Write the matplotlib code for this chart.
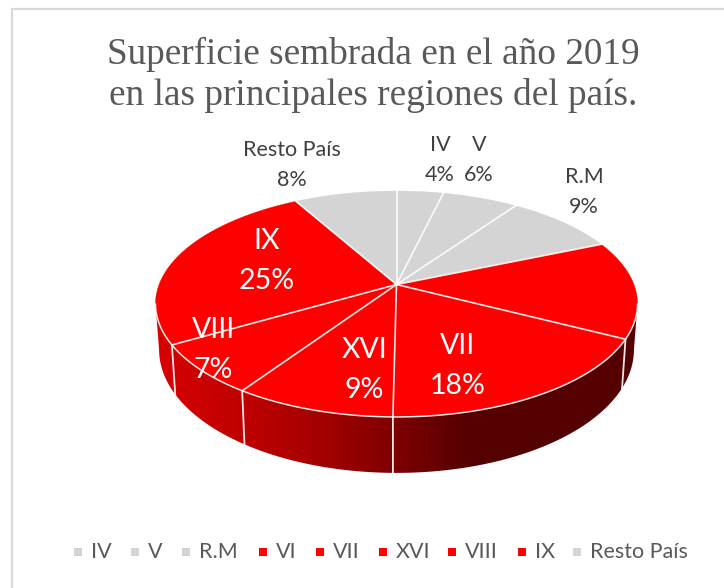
import numpy as np
import matplotlib
matplotlib.use('Agg')
import matplotlib.pyplot as plt

# data
regions = ['IV', 'V', 'R.M', 'VI', 'VII', 'XVI', 'VIII', 'IX', 'Resto País']
shares = [3.7, 6.0, 8.9, 14.0, 17.6, 9.2, 7.2, 25.3, 8.1]
is_red = [False, False, False, True, True, True, True, True, False]
title = 'Superficie sembrada en el año 2019\nen las principales regiones del país.'

GREY = '#d4d4d4'
RED = '#ff0000'

# perspective of the pie, in pixels of the picture
xc, yc = 396.5, 284.5
rx, ry, persp = 237.4, 109.6, 0.1726
low_dx, low_dy, low_fy = 0.985, 44, 1.09

# label centres for each region (None = no label)
label_pos = [(440, 160), (479, 160), (584, 192), None, (458, 366),
             (364.5, 370), (213.5, 350), (267, 261), (292, 165)]
legend_x = [78, 135, 186, 263, 320, 383, 452, 522, 577]


def top_xy(theta):
    # theta clockwise from the top of the pie, radians
    u, v = np.sin(theta), np.cos(theta)
    s = 1 / (1 + persp * v)
    return xc + rx * u * s, yc - ry * v * s


def low_xy(theta):
    x, y = top_xy(theta)
    return xc + (x - xc) * low_dx, yc + low_dy + (y - yc) * low_fy


fig = plt.figure(figsize=(7.24, 5.88), dpi=100)
ax = fig.add_axes([0, 0, 1, 1])
ax.axis('off')

# chart frame
ax.plot([11.5, 11.5, 724], [588, 9, 9], color='#d9d9d9', lw=1.6, zorder=1)

bounds = np.concatenate([[0], np.cumsum(shares)]) / np.sum(shares) * 2 * np.pi

# side wall: horizontal gradient clipped to the outline
wall = np.linspace(np.radians(100), np.radians(260), 300)
xt, yt = top_xy(wall)
xl, yl = low_xy(wall[::-1])
outline = ax.fill(np.r_[xt, xl], np.r_[yt, yl], color='none', lw=0, zorder=2)[0]
grad_x = np.arange(150, 645)
grad_g = np.interp(grad_x, [157, 246, 330, 394, 470, 638], [215, 190, 160, 125, 85, 85])
grad = np.zeros((1, len(grad_x), 3))
grad[0, :, 0] = grad_g / 255
img = ax.imshow(grad, extent=(150, 645, 480, 280), aspect='auto', zorder=2, interpolation='bilinear')
img.set_clip_path(outline)

for b in bounds:
    if np.pi / 2 < b < 3 * np.pi / 2:
        x0, y0 = top_xy(b)
        x1, y1 = low_xy(b)
        ax.plot([x0, x1], [y0, y1], color='white', lw=1.3, alpha=0.9, zorder=3)

# top face
for i in range(len(shares)):
    th = np.linspace(bounds[i], bounds[i + 1], 80)
    x, y = top_xy(th)
    ax.fill(np.r_[xc, x], np.r_[yc, y], color=RED if is_red[i] else GREY, lw=0.3, zorder=4)

# white rim along the front edge
ax.plot(*top_xy(wall), color='white', lw=1.1, alpha=0.9, zorder=5)

for b in bounds[:-1]:
    x, y = top_xy(b)
    ax.plot([xc, x], [yc, y], color='white', lw=1.2, alpha=0.9, zorder=5)

# labels
for i, pos in enumerate(label_pos):
    if pos is None:
        continue
    txt = f'{regions[i]}\n{shares[i]:.0f}%'
    if is_red[i]:
        ax.text(pos[0], pos[1], txt, color='white', fontsize=20.5, family='Lato',
                ha='center', va='center', linespacing=1.65, zorder=6)
    else:
        ax.text(pos[0], pos[1], txt, color='#404040', fontsize=15.5, family='Lato',
                ha='center', va='center', linespacing=1.6, zorder=6)

ax.text(373, 75, title, color='#595959', fontsize=26.8, family='Liberation Serif',
        ha='center', va='center', linespacing=1.22, zorder=6)

# legend
for i, name in enumerate(regions):
    ax.scatter(legend_x[i], 551.5, marker='s', s=36,
               color=RED if is_red[i] else GREY, lw=0, zorder=6)
    ax.text(legend_x[i] + 13, 552, name, color='#595959', fontsize=15.5, family='Lato',
            ha='left', va='center', zorder=6)

ax.set_xlim(0, 724)
ax.set_ylim(588, 0)

fig.savefig('out.png', dpi=100)
